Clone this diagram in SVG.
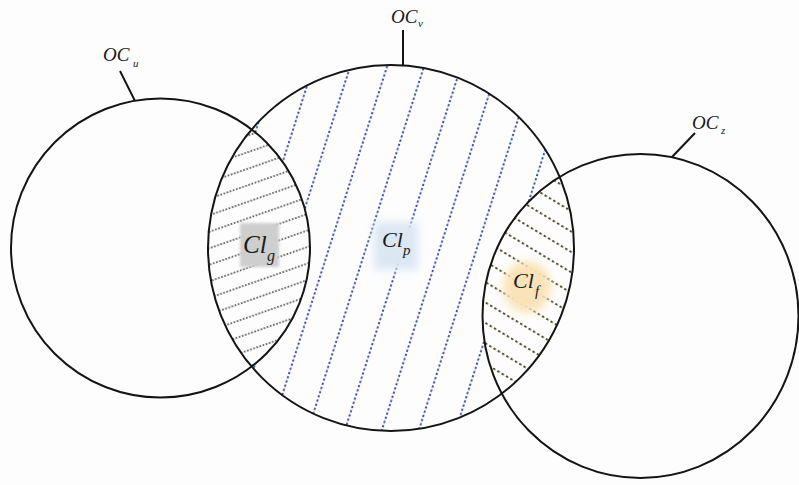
<svg xmlns="http://www.w3.org/2000/svg" width="799" height="485" viewBox="0 0 799 485">
  <style>
    .ring { fill: none; stroke: #141414; stroke-width: 2; }
    .lead { stroke: #141414; stroke-width: 2; fill: none; }
    .lbl { font-family: "Liberation Serif", "Times New Roman", serif; font-style: italic; fill: #1a1a1a; }
  </style>
  <defs>
    <clipPath id="clipU"><circle cx="160.5" cy="248" r="149.5"/></clipPath>
    <clipPath id="clipV"><circle cx="391" cy="248" r="183"/></clipPath>
    <clipPath id="clipZ"><ellipse cx="640.5" cy="316" rx="158" ry="162"/></clipPath>
    <mask id="maskP" maskUnits="userSpaceOnUse" x="0" y="0" width="799" height="485">
      <circle cx="391" cy="248" r="183" fill="#fff"/>
      <circle cx="160.5" cy="248" r="149.5" fill="#000"/>
      <ellipse cx="640.5" cy="316" rx="158" ry="162" fill="#000"/>
    </mask>
    <pattern id="hatchG" patternUnits="userSpaceOnUse" width="198" height="15.6" patternTransform="translate(210 215) rotate(-19.3) translate(-99 -7.8)">
      <line x1="0" y1="7.8" x2="198" y2="7.8" stroke="#2e2e2e" stroke-width="1.5" stroke-dasharray="1.6 1.7"/>
    </pattern>
    <pattern id="hatchP" patternUnits="userSpaceOnUse" width="396" height="35.2" patternTransform="translate(349 70) rotate(-72.3) translate(-198 -17.6)">
      <line x1="0" y1="17.6" x2="396" y2="17.6" stroke="#3b4fae" stroke-width="1.9" stroke-dasharray="2.2 2.2"/>
    </pattern>
    <pattern id="hatchF" patternUnits="userSpaceOnUse" width="400" height="17.5" patternTransform="translate(500 250) rotate(31) translate(-200 -8.75)">
      <line x1="0" y1="8.75" x2="400" y2="8.75" stroke="#574f33" stroke-width="2" stroke-dasharray="2.5 2.5"/>
    </pattern>
    <filter id="soft1" x="-30%" y="-30%" width="160%" height="160%"><feGaussianBlur stdDeviation="1.5"/></filter>
    <filter id="soft4" x="-40%" y="-40%" width="180%" height="180%"><feGaussianBlur stdDeviation="4"/></filter>
  </defs>

  <rect x="0" y="0" width="799" height="485" fill="#fdfdfd"/>

  <g id="region-p">
    <rect x="200" y="60" width="380" height="380" fill="url(#hatchP)" mask="url(#maskP)"/>
  </g>
  <g id="region-g">
    <g clip-path="url(#clipV)">
      <rect x="200" y="90" width="120" height="300" fill="url(#hatchG)" clip-path="url(#clipU)"/>
    </g>
  </g>
  <g id="region-f">
    <g clip-path="url(#clipV)">
      <rect x="470" y="150" width="120" height="300" fill="url(#hatchF)" clip-path="url(#clipZ)"/>
    </g>
  </g>

  <g id="circle-u"><circle class="ring" cx="160.5" cy="248" r="149.5"/></g>
  <g id="circle-v"><circle class="ring" cx="391" cy="248" r="183"/></g>
  <g id="circle-z"><ellipse class="ring" cx="640.5" cy="316" rx="158" ry="162"/></g>

  <g id="label-clg">
    <rect x="240" y="223" width="39" height="44" fill="#cecece" filter="url(#soft1)"/>
    <text class="lbl" x="243" y="253" font-size="25">Cl</text>
    <text class="lbl" x="267" y="261" font-size="16">g</text>
  </g>
  <g id="label-clp">
    <rect x="374" y="222" width="44" height="48" fill="#dce7f4" filter="url(#soft4)"/>
    <text class="lbl" x="382" y="247" font-size="22">Cl</text>
    <text class="lbl" x="403" y="255" font-size="15">p</text>
  </g>
  <g id="label-clf">
    <ellipse cx="527" cy="287" rx="24" ry="26" fill="#fae3b8" filter="url(#soft4)"/>
    <text class="lbl" x="513" y="288" font-size="22">Cl</text>
    <text class="lbl" x="535" y="296" font-size="15">f</text>
  </g>

  <g id="label-ocu">
    <text class="lbl" x="103" y="61" font-size="19">OC</text>
    <text class="lbl" x="133" y="67" font-size="11">u</text>
  </g>
  <g id="label-ocv">
    <text class="lbl" x="391" y="23" font-size="19">OC</text>
    <text class="lbl" x="418" y="27" font-size="11">v</text>
  </g>
  <g id="label-ocz">
    <text class="lbl" x="692" y="129" font-size="19">OC</text>
    <text class="lbl" x="721" y="134" font-size="11">z</text>
  </g>

  <g id="connectors">
    <line class="lead" x1="135" y1="101" x2="120" y2="71"/>
    <line class="lead" x1="403" y1="65" x2="403" y2="30"/>
    <line class="lead" x1="672" y1="157" x2="695" y2="133"/>
  </g>
</svg>
